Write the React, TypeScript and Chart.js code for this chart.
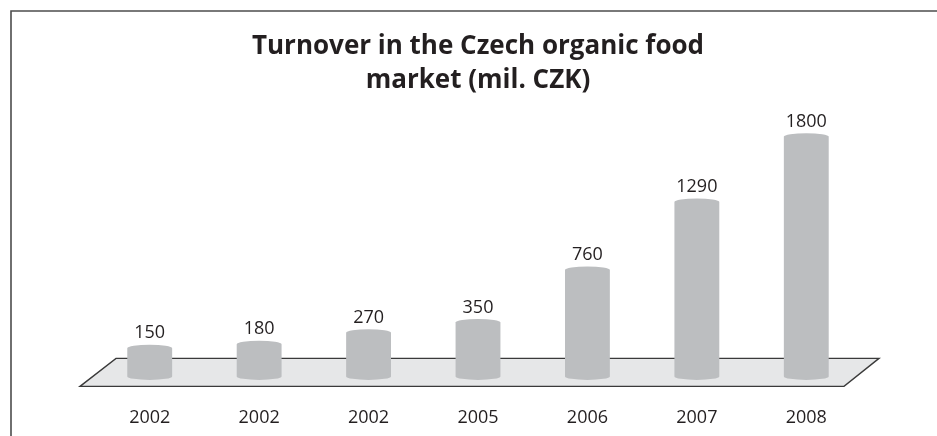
import React, { useEffect, useRef } from "react";
import { Chart, registerables } from "chart.js";

Chart.register(...registerables);

const categories = ["2002", "2002", "2002", "2005", "2006", "2007", "2008"];
const values = [150, 180, 270, 350, 760, 1290, 1800];
const titleLines = ["Turnover in the Czech organic food", "market (mil. CZK)"];

const TEXT = "#231f20";
const BAR = "#bcbec0";
const FLOOR = "#e6e7e8";
const FONT = "'Open Sans', sans-serif";

const decorPlugin = {
  id: "decor",
  beforeDraw(chart: any) {
    const ctx = chart.ctx;
    ctx.save();
    ctx.strokeStyle = "#4d4d4d";
    ctx.lineWidth = 1.6;
    ctx.beginPath();
    ctx.moveTo(11, chart.height);
    ctx.lineTo(11, 11);
    ctx.lineTo(chart.width, 11);
    ctx.stroke();
    ctx.restore();
  },
  beforeDatasetsDraw(chart: any) {
    const { ctx, chartArea } = chart;
    const { left, right, bottom } = chartArea;
    ctx.save();
    ctx.beginPath();
    ctx.moveTo(left - 15, bottom + 19);
    ctx.lineTo(left + 21, bottom - 9);
    ctx.lineTo(right + 18, bottom - 9);
    ctx.lineTo(right - 17, bottom + 19);
    ctx.closePath();
    ctx.fillStyle = FLOOR;
    ctx.fill();
    ctx.strokeStyle = "#3a3a3a";
    ctx.lineWidth = 1.4;
    ctx.stroke();
    ctx.restore();
  },
  afterDatasetsDraw(chart: any) {
    const { ctx, chartArea } = chart;
    const meta = chart.getDatasetMeta(0);
    const bottomY = chartArea.bottom + 9;
    ctx.save();
    meta.data.forEach((el: any, i: number) => {
      const x = el.x;
      const y = el.y;
      const half = el.width / 2;
      const ry = 3.5;
      ctx.beginPath();
      ctx.moveTo(x - half, y);
      ctx.ellipse(x, y, half, ry, 0, Math.PI, 2 * Math.PI);
      ctx.lineTo(x + half, bottomY);
      ctx.ellipse(x, bottomY, half, ry, 0, 0, Math.PI);
      ctx.closePath();
      ctx.fillStyle = BAR;
      ctx.fill();

      ctx.fillStyle = TEXT;
      ctx.font = `18px ${FONT}`;
      ctx.textAlign = "center";
      ctx.textBaseline = "middle";
      ctx.fillText(String(values[i]), x, y - 15);
    });
    ctx.restore();
  },
};

export default function App() {
  const ref = useRef<HTMLCanvasElement | null>(null);

  useEffect(() => {
    if (!ref.current) return;
    const chart = new Chart(ref.current, {
      type: "bar",
      data: {
        labels: categories,
        datasets: [
          {
            data: values,
            backgroundColor: "rgba(0,0,0,0)",
            borderWidth: 0,
            categoryPercentage: 1,
            barPercentage: 0.41,
          },
        ],
      },
      options: {
        animation: false,
        responsive: true,
        maintainAspectRatio: false,
        layout: { padding: { left: 95, right: 76, top: 0, bottom: -33 } },
        plugins: {
          legend: { display: false },
          tooltip: { enabled: false },
          title: {
            display: true,
            text: titleLines,
            color: TEXT,
            font: { family: FONT, size: 26, weight: "bold", lineHeight: 1.31 },
            padding: { top: 30, bottom: 13 },
          },
        },
        scales: {
          x: {
            grid: { display: false, drawTicks: false },
            border: { display: false },
            ticks: {
              color: TEXT,
              font: { family: FONT, size: 18, lineHeight: 1.2 },
              padding: 40,
              autoSkip: false,
              maxRotation: 0,
            },
          },
          y: {
            display: false,
            min: 0,
            max: 2000,
          },
        },
      },
      plugins: [decorPlugin],
    });
    return () => chart.destroy();
  }, []);

  return (
    <div style={{ position: "fixed", left: 0, top: 0, width: 937, height: 436, background: "#fff" }}>
      <canvas ref={ref} />
    </div>
  );
}
